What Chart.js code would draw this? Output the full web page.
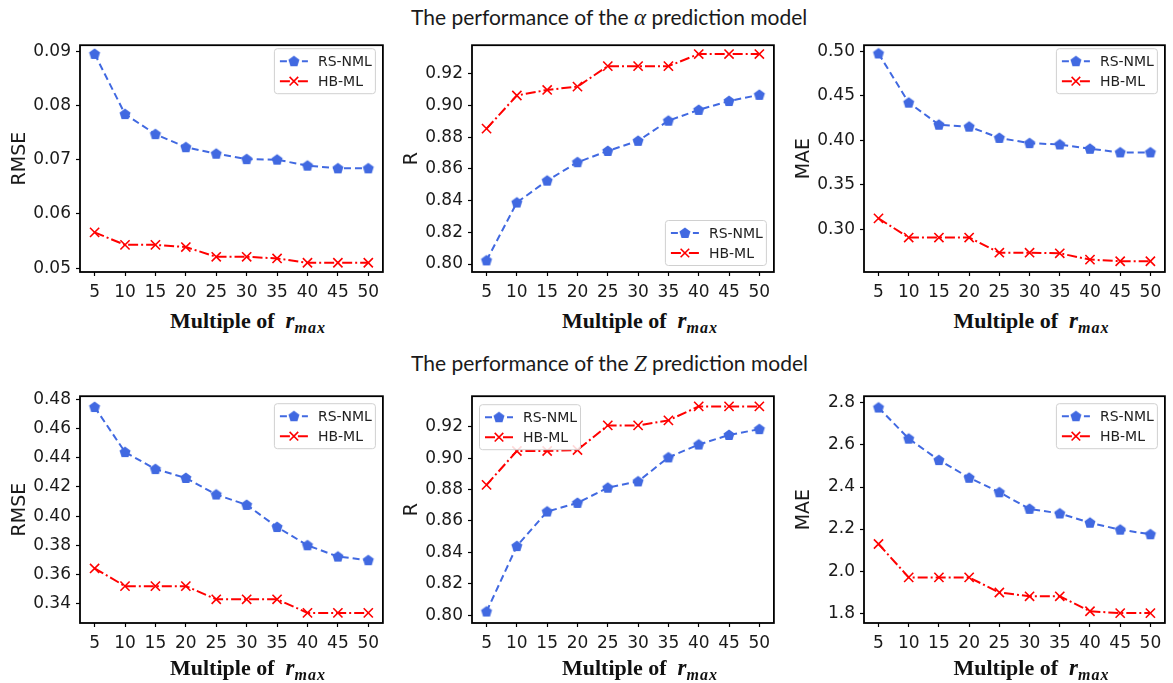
<!DOCTYPE html>
<html>
<head>
<meta charset="utf-8">
<script src="https://cdn.jsdelivr.net/npm/chart.js@4/dist/chart.umd.min.js"></script>
<style>
  body { margin: 0; background: #fff; width: 1173px; height: 683px; position: relative; overflow: hidden; }
  canvas { position: absolute; }
  .title { position: absolute; left: 411px; white-space: nowrap; font-family: Lato; font-size: 21px; line-height: 24px; color: #1a1a1a; }
  .title i { font-family: "Liberation Serif"; font-size: 23px; }
  .xl { position: absolute; white-space: nowrap; font-family: "Liberation Serif"; font-weight: bold; font-size: 22px; line-height: 24px; color: #111; }
  .xl i { font-size: 23px; }
  .xl .sub { position: relative; top: 5px; font-size: 16px; letter-spacing: 1px; }
</style>
</head>
<body>
<div class="title" style="top:5px">The performance of the <i>α</i> prediction model</div>
<div class="title" style="top:351px">The performance of the <i>Z</i> prediction model</div>

<script>
// x categories: multiple of r_max
const multiples = [5, 10, 15, 20, 25, 30, 35, 40, 45, 50];
const seriesNames = ["RS-NML", "HB-ML"];

// alpha prediction model
const alphaRmseRS = [0.0895, 0.0784, 0.0747, 0.0723, 0.0711, 0.0701, 0.0700, 0.0689, 0.0684, 0.0684];
const alphaRmseHB = [0.0566, 0.0543, 0.0543, 0.0539, 0.0521, 0.0521, 0.0518, 0.0510, 0.0510, 0.0510];
const alphaRRS = [0.8023, 0.8388, 0.8526, 0.8642, 0.8713, 0.8777, 0.8904, 0.8972, 0.9028, 0.9067];
const alphaRHB = [0.8854, 0.9063, 0.9098, 0.9119, 0.9248, 0.9248, 0.9248, 0.9324, 0.9324, 0.9324];
const alphaMaeRS = [0.4974, 0.4422, 0.4174, 0.4152, 0.4026, 0.3967, 0.3952, 0.3904, 0.3863, 0.3863];
const alphaMaeHB = [0.3122, 0.2907, 0.2907, 0.2907, 0.2737, 0.2737, 0.2730, 0.2659, 0.2641, 0.2641];

// Z prediction model
const zRmseRS = [0.4746, 0.4438, 0.4322, 0.4261, 0.4148, 0.4077, 0.3926, 0.3801, 0.3724, 0.3699];
const zRmseHB = [0.3643, 0.3522, 0.3522, 0.3522, 0.3432, 0.3432, 0.3432, 0.3339, 0.3339, 0.3339];
const zRRS = [0.8023, 0.8440, 0.8660, 0.8715, 0.8812, 0.8852, 0.9005, 0.9087, 0.9148, 0.9185];
const zRHB = [0.8830, 0.9046, 0.9046, 0.9052, 0.9209, 0.9209, 0.9241, 0.9330, 0.9330, 0.9330];
const zMaeRS = [2.778, 2.630, 2.528, 2.444, 2.375, 2.296, 2.274, 2.230, 2.197, 2.175];
const zMaeHB = [2.129, 1.970, 1.970, 1.970, 1.898, 1.880, 1.880, 1.809, 1.800, 1.800];

// y tick labels
const alphaRmseTicks = [0.05, 0.06, 0.07, 0.08, 0.09];
const rTicks = [0.80, 0.82, 0.84, 0.86, 0.88, 0.90, 0.92];
const alphaMaeTicks = [0.30, 0.35, 0.40, 0.45, 0.50];
const zRmseTicks = [0.34, 0.36, 0.38, 0.40, 0.42, 0.44, 0.46, 0.48];
const zMaeTicks = [1.8, 2.0, 2.2, 2.4, 2.6, 2.8];

const BLUE = "#4169e1";
const RED = "#ff0000";
const TICK_FONT = { family: "DejaVu Sans", size: 17 };

// pentagon marker (matplotlib 'p')
function pentagon(color, r) {
  const c = document.createElement("canvas");
  const s = Math.ceil(r * 2 + 2);
  c.width = c.height = s;
  const g = c.getContext("2d");
  g.beginPath();
  for (let k = 0; k < 5; k++) {
    const a = -Math.PI / 2 + k * 2 * Math.PI / 5;
    const px = s / 2 + r * Math.cos(a), py = s / 2 + r * Math.sin(a) + 0.4;
    k ? g.lineTo(px, py) : g.moveTo(px, py);
  }
  g.closePath();
  g.fillStyle = color;
  g.fill();
  return c;
}
const pentImg = pentagon(BLUE, 5.8);

function drawCross(ctx, x, y, r, color) {
  ctx.save();
  ctx.setLineDash([]);
  ctx.strokeStyle = color;
  ctx.lineWidth = 1.6;
  ctx.beginPath();
  ctx.moveTo(x - r, y - r); ctx.lineTo(x + r, y + r);
  ctx.moveTo(x - r, y + r); ctx.lineTo(x + r, y - r);
  ctx.stroke();
  ctx.restore();
}

// black box round the plot area
const frame = {
  id: "frame",
  afterDraw(chart) {
    const { ctx, chartArea: a } = chart;
    ctx.save();
    ctx.strokeStyle = "#000";
    ctx.lineWidth = 1.8;
    ctx.strokeRect(a.left, a.top, a.right - a.left, a.bottom - a.top);
    ctx.restore();
  }
};

// matplotlib-like legend inside the axes
const insideLegend = {
  id: "insideLegend",
  afterDatasetsDraw(chart, args, opts) {
    const { ctx, chartArea: a } = chart;
    const w = 101, h = 45;
    const x = opts.pos.includes("w") ? a.left + 7 : a.right - 8 - w;
    const y = opts.pos.includes("n") ? a.top + opts.dy : a.bottom - 7 - h;
    ctx.save();
    ctx.fillStyle = "rgba(255,255,255,0.85)";
    ctx.strokeStyle = "#d0d0d0";
    ctx.lineWidth = 1;
    ctx.beginPath();
    ctx.roundRect(x + 0.5, y + 0.5, w, h, 3);
    ctx.fill();
    ctx.stroke();
    chart.data.datasets.forEach((ds, i) => {
      const cy = y + 13 + i * 20;
      ctx.strokeStyle = ds.borderColor;
      ctx.lineWidth = ds.borderWidth;
      ctx.setLineDash(ds.borderDash);
      ctx.beginPath();
      ctx.moveTo(x + 6, cy);
      ctx.lineTo(x + 34, cy);
      ctx.stroke();
      if (ds.pointStyle === "crossRot") {
        drawCross(ctx, x + 20, cy, 4.3, ds.borderColor);
      } else {
        ctx.drawImage(ds.pointStyle, x + 20 - ds.pointStyle.width / 2, cy - ds.pointStyle.height / 2);
      }
      ctx.setLineDash([]);
      ctx.fillStyle = "#222";
      ctx.font = "14px 'DejaVu Sans'";
      ctx.textBaseline = "middle";
      ctx.fillText(ds.label, x + 44, cy + 1);
    });
    ctx.restore();
  }
};

const panels = [
  { left: 0,   top: 30,  width: 391, padRight: 3, yTitle: "RMSE", min: 0.0493, max: 0.0911, ticks: alphaRmseTicks, dec: 2, legend: "ne", dy: 3, rs: alphaRmseRS, hb: alphaRmseHB },
  { left: 392, top: 30,  width: 390, padRight: 2, yTitle: "R",    min: 0.795,  max: 0.938,  ticks: rTicks,         dec: 2, legend: "se", dy: 3, rs: alphaRRS,    hb: alphaRHB },
  { left: 784, top: 30,  width: 389, padRight: 2, yTitle: "MAE",  min: 0.252,  max: 0.5067, ticks: alphaMaeTicks,  dec: 2, legend: "ne", dy: 3, rs: alphaMaeRS,  hb: alphaMaeHB },
  { left: 0,   top: 381, width: 391, padRight: 3, yTitle: "RMSE", min: 0.327,  max: 0.482,  ticks: zRmseTicks,     dec: 2, legend: "ne", dy: 7, rs: zRmseRS,     hb: zRmseHB },
  { left: 392, top: 381, width: 390, padRight: 2, yTitle: "R",    min: 0.795,  max: 0.9395, ticks: rTicks,         dec: 2, legend: "nw", dy: 8, rs: zRRS,        hb: zRHB },
  { left: 784, top: 381, width: 389, padRight: 2, yTitle: "MAE",  min: 1.753,  max: 2.832,  ticks: zMaeTicks,      dec: 1, legend: "ne", dy: 7, rs: zMaeRS,      hb: zMaeHB }
];

panels.forEach((p) => {
  const cv = document.createElement("canvas");
  cv.width = p.width;
  cv.height = 275;
  cv.style.left = p.left + "px";
  cv.style.top = p.top + "px";
  document.body.appendChild(cv);

  new Chart(cv.getContext("2d"), {
    type: "line",
    data: {
      datasets: [
        {
          label: seriesNames[0],
          data: multiples.map((m, i) => ({ x: m, y: p.rs[i] })),
          borderColor: BLUE,
          borderWidth: 2,
          borderDash: [7, 4],
          pointStyle: pentImg,
          pointRadius: 5,
          pointBackgroundColor: BLUE,
          pointBorderColor: BLUE,
          tension: 0,
          fill: false
        },
        {
          label: seriesNames[1],
          data: multiples.map((m, i) => ({ x: m, y: p.hb[i] })),
          borderColor: RED,
          borderWidth: 2,
          borderDash: [10, 3, 2, 3],
          pointStyle: "crossRot",
          pointRadius: 6.5,
          pointBorderWidth: 1.6,
          pointBorderColor: RED,
          pointBackgroundColor: RED,
          tension: 0,
          fill: false
        }
      ]
    },
    options: {
      responsive: false,
      animation: false,
      events: [],
      layout: { padding: { top: 13, right: p.padRight, left: 0, bottom: 0 } },
      plugins: {
        legend: { display: false },
        tooltip: { enabled: false },
        insideLegend: { pos: p.legend, dy: p.dy }
      },
      scales: {
        x: {
          type: "linear",
          min: 2.6,
          max: 52.4,
          afterBuildTicks: (s) => { s.ticks = multiples.map((v) => ({ value: v })); },
          afterFit: (s) => { s.height = 33; },
          border: { display: false },
          grid: { display: true, drawOnChartArea: false, drawTicks: true, tickLength: 4, color: "#000", tickWidth: 1.2 },
          ticks: { color: "#1a1a1a", font: TICK_FONT, padding: 6, maxRotation: 0, autoSkip: false }
        },
        y: {
          min: p.min,
          max: p.max,
          afterBuildTicks: (s) => { s.ticks = p.ticks.map((v) => ({ value: v })); },
          afterFit: (s) => { s.width = 80; },
          border: { display: false },
          grid: { display: true, drawOnChartArea: false, drawTicks: true, tickLength: 4, color: "#000", tickWidth: 1.2 },
          ticks: { color: "#1a1a1a", font: TICK_FONT, padding: 5, callback: (v) => v.toFixed(p.dec) },
          title: { display: true, text: p.yTitle, color: "#1a1a1a", font: { family: "DejaVu Sans", size: 19 }, padding: { top: 9, bottom: 0 } }
        }
      }
    },
    plugins: [frame, insideLegend]
  });

  // x axis title: Multiple of r_max
  const xl = document.createElement("div");
  xl.className = "xl";
  xl.innerHTML = 'Multiple of&nbsp; <i>r<span class="sub">max</span></i>';
  document.body.appendChild(xl);
  const center = p.left + 80 + (p.width - 80 - p.padRight) / 2 + 14;
  xl.style.left = (center - xl.offsetWidth / 2) + "px";
  xl.style.top = (p.top < 100 ? 309 : 656) + "px";
});
</script>
</body>
</html>
